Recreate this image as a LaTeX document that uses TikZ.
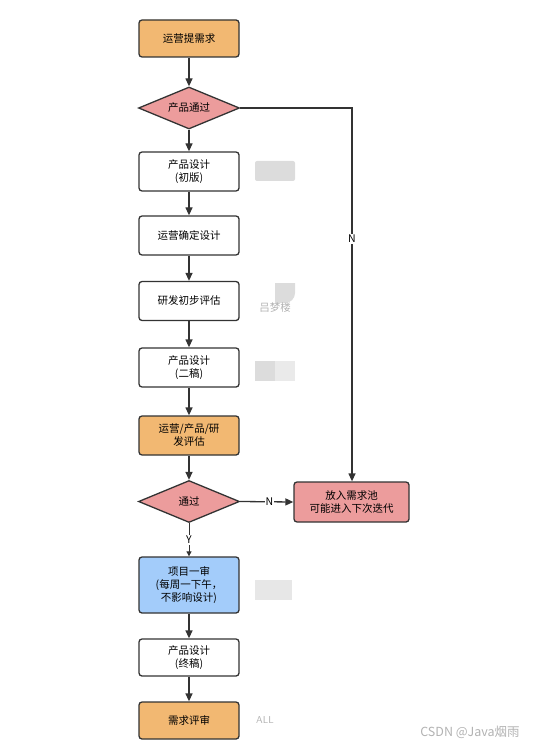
\documentclass[tikz,border=0pt]{standalone}
\usepackage{fontspec}
\setmainfont{Noto Sans CJK SC}
\usetikzlibrary{shapes.geometric, arrows.meta}

\definecolor{boxorange}{HTML}{F2B872}
\definecolor{boxpink}{HTML}{EC9C9C}
\definecolor{boxblue}{HTML}{A3CCFA}
\definecolor{edgegray}{HTML}{333333}
\definecolor{maskgray}{HTML}{DCDCDC}

\begin{document}
\begin{tikzpicture}[x=1pt, y=-1pt, font=\fontsize{10.5}{13}\selectfont]
    \tikzset{box/.style={draw=edgegray, line width=1.3pt, rounded corners=3pt, fill=white,
                         minimum width=100pt, minimum height=39pt, align=center, inner sep=1pt},
             choice/.style={draw=edgegray, line width=1.3pt, diamond, fill=boxpink, aspect=2.45,
                            minimum width=101pt, minimum height=42pt, inner sep=0pt},
             flow/.style={draw=edgegray, line width=1.3pt, -{Triangle[length=8pt, width=7pt]}},
             mask/.style={fill=maskgray, draw=none},
             faint/.style={text=black!30}};

    \useasboundingbox (0, 0) rectangle (550, 751);

    % Main column
    \node [box, fill=boxorange, minimum height=37pt] (ask) at (189, 38.5) {运营提需求};
    \node [choice] (pass1) at (189, 108) {产品通过};
    \node [box] (draft1) at (189, 171.5) {产品设计\\(初版)};
    \node [box] (confirm) at (189, 235.5) {运营确定设计};
    \node [box] (devest) at (189, 301) {研发初步评估};
    \node [box] (draft2) at (189, 367.5) {产品设计\\(二稿)};
    \node [box, fill=boxorange] (review) at (189, 435.5) {运营/产品/研\\发评估};
    \node [choice] (pass2) at (189, 501.5) {通过};
    \node [box, fill=boxblue, minimum height=56pt] (first) at (189, 585) {项目一审\\(每周一下午，\\不影响设计)};
    \node [box, minimum height=37pt] (final) at (189, 657.5) {产品设计\\(终稿)};
    \node [box, fill=boxorange, minimum height=37pt] (meet) at (189, 720.5) {需求评审};

    % Side
    \node [box, fill=boxpink, minimum width=115pt, minimum height=40pt] (pool) at (351.5, 502)
        {放入需求池\\可能进入下次迭代};
    \coordinate (turn) at (352, 108);

    % Edges
    \foreach \a/\b in {ask/pass1, pass1/draft1, draft1/confirm, confirm/devest,
                       devest/draft2, draft2/review, review/pass2, first/final, final/meet}
        { \draw [flow] (\a) -- (\b); }
    \draw [flow] (pass1.east) -- (turn) -- node [fill=white, inner sep=1pt, pos=0.35] {N} (pool.north -| turn);
    \draw [flow] (pass2.east) -- node [fill=white, inner sep=1pt, pos=0.55] {N} (pool.west);
    \draw [flow, line width=0.8pt, -{Triangle[length=5pt, width=5pt]}] (pass2.south)
        -- node [fill=white, inner sep=1pt, pos=0.5] {Y} (first.north);

    % Masked notes
    \fill [mask, rounded corners=2pt] (255, 161) rectangle (295, 181);
    \fill [mask] (275, 283) -- (295, 283) [rounded corners=10pt] -- (295, 303) [sharp corners] -- (275, 303) -- cycle;
    \node [faint] (who) at (275, 308) {吕梦楼};
    \fill [mask] (255, 361) rectangle (275, 381);
    \fill [maskgray!60] (275, 361) rectangle (295, 381);
    \fill [maskgray!70] (255, 580) rectangle (292, 600);
    \node [faint, font=\sffamily\fontsize{10}{12}\selectfont] (all) at (265, 720) {ALL};
    \node [faint, font=\fontsize{12.5}{14}\selectfont] (mark) at (470, 732) {CSDN @Java烟雨};
  \end{tikzpicture}
\end{document}
